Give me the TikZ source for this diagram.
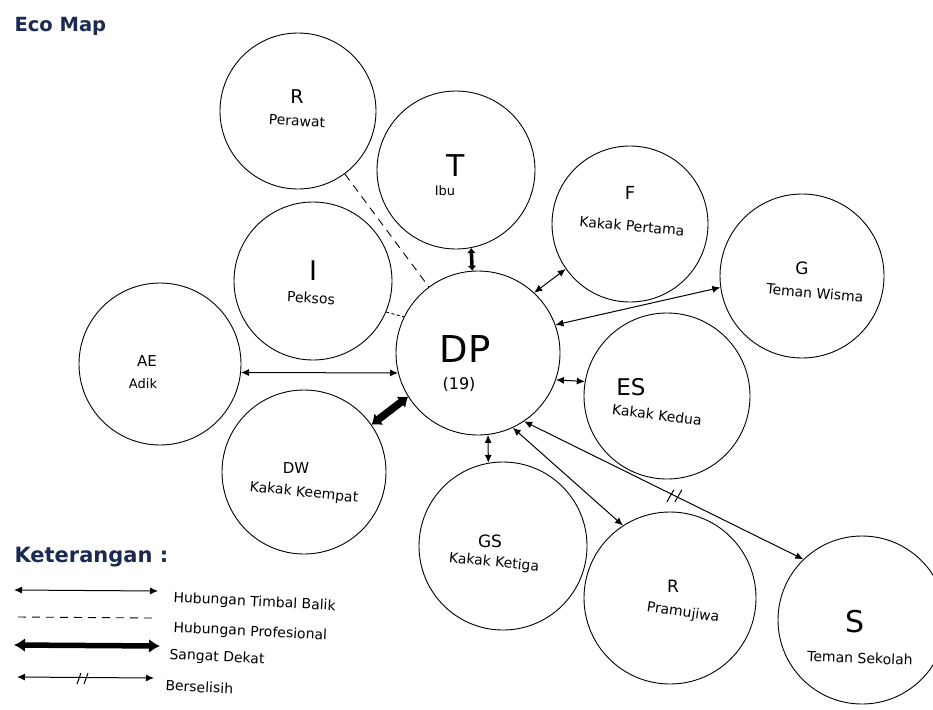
\documentclass[tikz,border=0pt]{standalone}
\usepackage{fontspec}
\setmainfont{DejaVu Sans}
\usetikzlibrary{arrows.meta}
\definecolor{navy}{HTML}{1B2A52}
\begin{document}
\begin{tikzpicture}[x=1pt,y=-1pt,
  ent/.style={circle,draw,line width=0.9pt,inner sep=0pt},
  fs/.style={font=\fontsize{#1}{#1}\selectfont},
  lab/.style={fs=14},
  recip/.style={{Latex[length=8pt,width=7pt]}-{Latex[length=8pt,width=7pt]},line width=1pt},
  prof/.style={dash pattern=on 8pt off 6pt,line width=0.9pt},
  profshort/.style={dash pattern=on 3pt off 2.5pt,line width=0.9pt},
  closeT/.style={{Latex[length=5pt,width=9pt]}-{Latex[length=5pt,width=9pt]},line width=3.5pt},
  closeW/.style={{Latex[length=9pt,width=15pt]}-{Latex[length=9pt,width=15pt]},line width=7.5pt},
  closeL/.style={{Latex[length=11pt,width=14pt]}-{Latex[length=11pt,width=14pt]},line width=5.5pt},
  slash/.style={line width=1pt},
  legtext/.style={fs=14,anchor=west,rotate=-3}
]
\useasboundingbox (0,0) rectangle (933,709);
\fill[white] (0,0) rectangle (933,709);

% title
\node[anchor=west,font=\fontsize{19.5}{19.5}\bfseries\selectfont,text=navy] (title) at (11,26) {Eco Map};

% circles
\node[ent,minimum size=156pt] (Rp) at (298,111) {};
\node[ent,minimum size=158pt] (T) at (456,170) {};
\node[ent,minimum size=156pt] (F) at (630,224) {};
\node[ent,minimum size=164pt] (G) at (802,276) {};
\node[ent,minimum size=158pt] (I) at (313,281) {};
\node[ent,minimum size=162pt] (AE) at (160,364) {};
\node[ent,minimum size=164pt] (DP) at (478,353) {};
\node[ent,minimum size=166pt] (ES) at (667,396) {};
\node[ent,minimum size=164pt] (DW) at (304,472) {};
\node[ent,minimum size=168pt] (GS) at (503,546) {};
\node[ent,minimum size=172pt] (Rj) at (670,598) {};
\node[ent,minimum size=168pt] (S) at (862,620) {};

% labels
\node[fs=19] (RpA) at (297,97) {R};
\node[lab,rotate=-3] (RpB) at (297,121) {Perawat};
\node[fs=30] (TA) at (456,166) {T};
\node[fs=13] (TB) at (445,191) {Ibu};
\node[fs=18] (FA) at (630,193) {F};
\node[lab,rotate=-5] (FB) at (632,226) {Kakak Pertama};
\node[fs=17] (GA) at (802,268) {G};
\node[lab,rotate=-5] (GB) at (815,293) {Teman Wisma};
\node[fs=27] (IA) at (313,271) {I};
\node[lab,rotate=-3] (IB) at (311,298) {Peksos};
\node[fs=15] (AEA) at (147,361) {AE};
\node[fs=13] (AEB) at (143,384) {Adik};
\node[fs=37] (DPA) at (465,349) {DP};
\node[fs=16] (DPB) at (459,384) {(19)};
\node[fs=23] (ESA) at (631,387) {ES};
\node[lab,rotate=-7] (ESB) at (657,415) {Kakak Kedua};
\node[fs=15] (DWA) at (296,468) {DW};
\node[lab,rotate=-6] (DWB) at (304,493) {Kakak Keempat};
\node[fs=17] (GSA) at (490,541) {GS};
\node[lab,rotate=-6] (GSB) at (494,563) {Kakak Ketiga};
\node[fs=17] (RjA) at (673,586) {R};
\node[lab,rotate=-8] (RjB) at (683,613) {Pramujiwa};
\node[fs=30] (SA) at (855,622) {S};
\node[lab,rotate=-2] (SB) at (860,658) {Teman Sekolah};

% connectors
\draw[prof] (Rp) -- (DP);
\draw[profshort] (I.-23) -- (DP.154);
\draw[closeT] (T.-79) -- (DP.94);
\draw[recip] (DP.47) -- (F.-145);
\draw[recip] (DP.20) -- (G.-172);
\draw[recip] (DP.-19) -- (ES.170);
\draw[recip] (AE.-6) -- (DP.194);
\draw[closeW] (DW.35) -- (DP.-148);
\draw[recip] (DP.-83) -- (GS.100);
\draw[recip] (DP.-65) -- (Rj.123);
\draw[recip] (DP.-56) -- (S.134) coordinate[pos=0.54] (cf);
\draw[slash] ([shift={(-8,6)}]cf) -- ([shift={(-1,-6)}]cf);
\draw[slash] ([shift={(0,6)}]cf) -- ([shift={(7,-6)}]cf);

% legend
\node[anchor=west,font=\fontsize{21}{21}\bfseries\selectfont,text=navy] (ket) at (11,557) {Keterangan :};
\coordinate (l1a) at (14,590); \coordinate (l1b) at (158,591);
\draw[recip] (l1a) -- (l1b);
\node[legtext] (t1) at (170,598) {Hubungan Timbal Balik};
\coordinate (l2a) at (18,617); \coordinate (l2b) at (152,618);
\draw[prof] (l2a) -- (l2b);
\node[legtext] (t2) at (170,628) {Hubungan Profesional};
\coordinate (l3a) at (14,645); \coordinate (l3b) at (160,646);
\draw[closeL] (l3a) -- (l3b);
\node[legtext] (t3) at (166,655) {Sangat Dekat};
\coordinate (l4a) at (17,677); \coordinate (l4b) at (154,678);
\draw[recip] (l4a) -- (l4b);
\coordinate (lm) at (83,678);
\draw[slash] ([shift={(-6,6)}]lm) -- ([shift={(-2,-5)}]lm);
\draw[slash] ([shift={(1,6)}]lm) -- ([shift={(5,-5)}]lm);
\node[legtext] (t4) at (162,685) {Berselisih};
\end{tikzpicture}
\end{document}
